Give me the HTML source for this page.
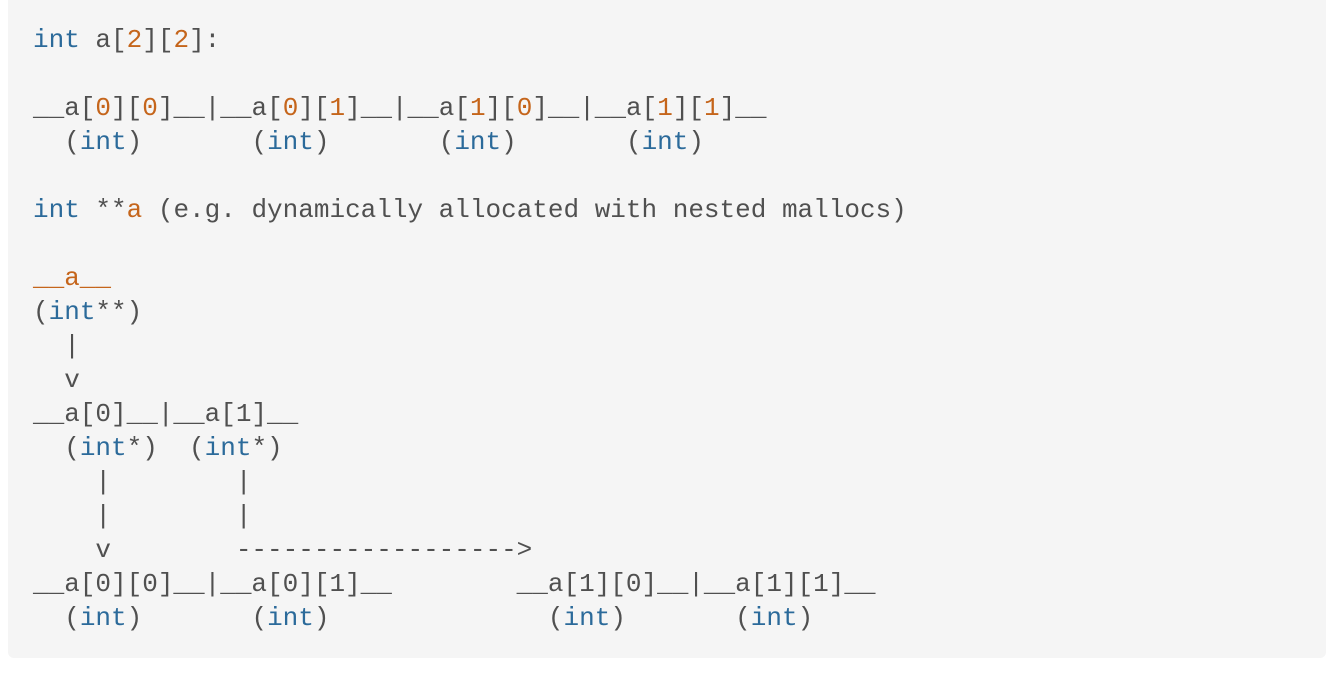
<!DOCTYPE html>
<html><head><style>
html,body{margin:0;padding:0;background:#fff;width:1330px;height:674px;overflow:hidden}
.box{position:absolute;left:8px;top:0;width:1318px;height:658px;background:#f5f5f5;border-radius:0 0 6px 6px}
pre{position:absolute;left:33px;top:23px;margin:0;font-family:"Liberation Mono",monospace;font-size:26px;line-height:34px;color:#505050}
.k{color:#2b6a9a}.n{color:#c5651b}
</style></head><body><div class="box"></div>
<pre><span class="k">int</span> a[<span class="n">2</span>][<span class="n">2</span>]:

__a[<span class="n">0</span>][<span class="n">0</span>]__|__a[<span class="n">0</span>][<span class="n">1</span>]__|__a[<span class="n">1</span>][<span class="n">0</span>]__|__a[<span class="n">1</span>][<span class="n">1</span>]__
  (<span class="k">int</span>)       (<span class="k">int</span>)       (<span class="k">int</span>)       (<span class="k">int</span>)

<span class="k">int</span> **<span class="n">a</span> (e.g. dynamically allocated with nested mallocs)

<span class="n">__a__</span>
(<span class="k">int</span>**)
  |
  v
__a[0]__|__a[1]__
  (<span class="k">int</span>*)  (<span class="k">int</span>*)
    |        |
    |        |
    v        ------------------&gt;
__a[0][0]__|__a[0][1]__        __a[1][0]__|__a[1][1]__
  (<span class="k">int</span>)       (<span class="k">int</span>)              (<span class="k">int</span>)       (<span class="k">int</span>)</pre>
</body></html>
